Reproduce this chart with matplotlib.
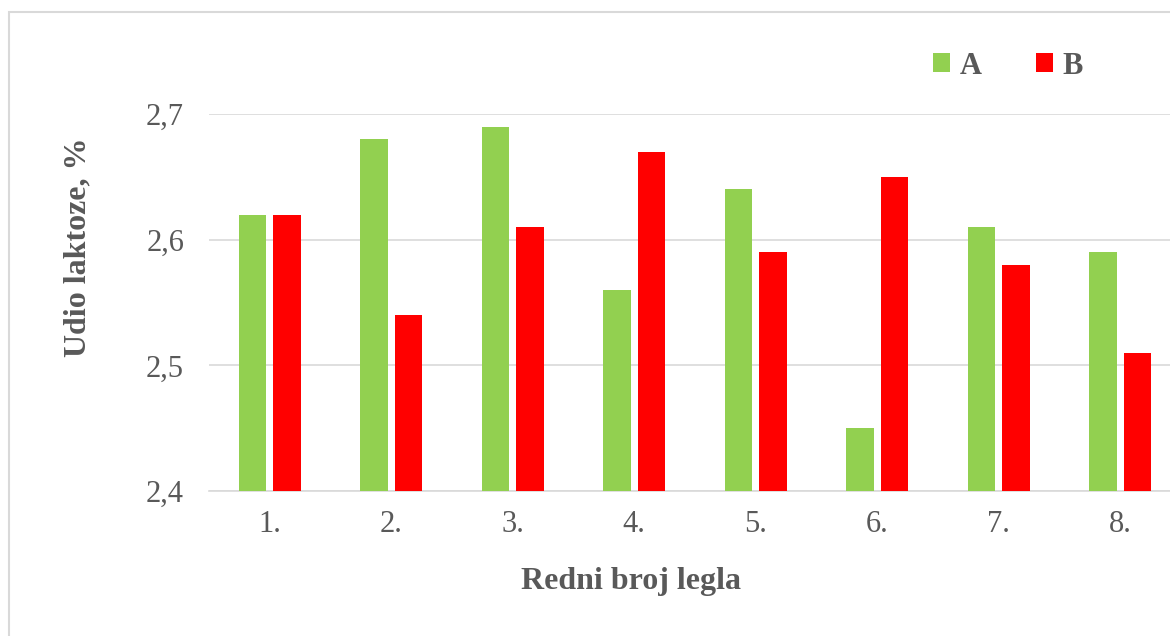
import numpy as np
import matplotlib
matplotlib.use("Agg")
import matplotlib.pyplot as plt
from matplotlib.patches import Rectangle

# podaci
categories = ["1.", "2.", "3.", "4.", "5.", "6.", "7.", "8."]
values_a = [2.62, 2.68, 2.69, 2.56, 2.64, 2.45, 2.61, 2.59]
values_b = [2.62, 2.54, 2.61, 2.67, 2.59, 2.65, 2.58, 2.51]
y_ticks = [2.4, 2.5, 2.6, 2.7]
y_tick_labels = ["2,4", "2,5", "2,6", "2,7"]

W, H = 1170, 636
text_color = "#595959"
font = "Liberation Serif"
plt.rcParams["font.family"] = font

fig = plt.figure(figsize=(W / 100, H / 100), dpi=100)

# okvir grafikona
fig.patches.append(Rectangle((9 / W, -0.05), 1.1, 1 - 12 / H + 0.05,
                             transform=fig.transFigure, fill=False,
                             edgecolor="#D9D9D9", linewidth=1.5))

ax = fig.add_axes([209 / W, 145 / H, (1181 - 209) / W, (491 - 114) / H])

x = np.arange(len(categories))
w = 0.225
off = 0.142
ax.bar(x - off, values_a, width=w, color="#92D050", label="A", zorder=3)
ax.bar(x + off, values_b, width=w, color="#FF0000", label="B", zorder=3)

ax.set_xlim(-0.5, len(categories) - 0.5)
ax.set_ylim(2.4, 2.7)
ax.set_yticks(y_ticks)
ax.set_yticklabels(y_tick_labels)
ax.set_xticks(x)
ax.set_xticklabels(categories)
ax.tick_params(axis="both", length=0, labelsize=22, colors=text_color)
ax.tick_params(axis="x", pad=14)
ax.tick_params(axis="y", pad=18)
ax.grid(axis="y", color="#D9D9D9", linewidth=1.2, zorder=0)
for s in ["top", "right", "left"]:
    ax.spines[s].set_visible(False)
ax.spines["bottom"].set_color("#D9D9D9")
ax.spines["bottom"].set_linewidth(1.2)

fig.text(631 / W, 1 - 581 / H, "Redni broj legla", ha="center", va="center",
         fontsize=23, fontweight="bold", color=text_color)
fig.text(78 / W, 1 - 247 / H, "Udio laktoze, %", ha="center", va="center",
         rotation=90, fontsize=23, fontweight="bold", color=text_color)

leg = fig.legend(loc="center", bbox_to_anchor=(1008 / W, 1 - 66 / H), ncol=2,
                 frameon=False, prop={"family": font, "size": 22, "weight": "bold"},
                 handlelength=0.55, handleheight=0.55, handletextpad=0.3,
                 columnspacing=1.8)
for t in leg.get_texts():
    t.set_color(text_color)

fig.savefig("out.png", dpi=100)
